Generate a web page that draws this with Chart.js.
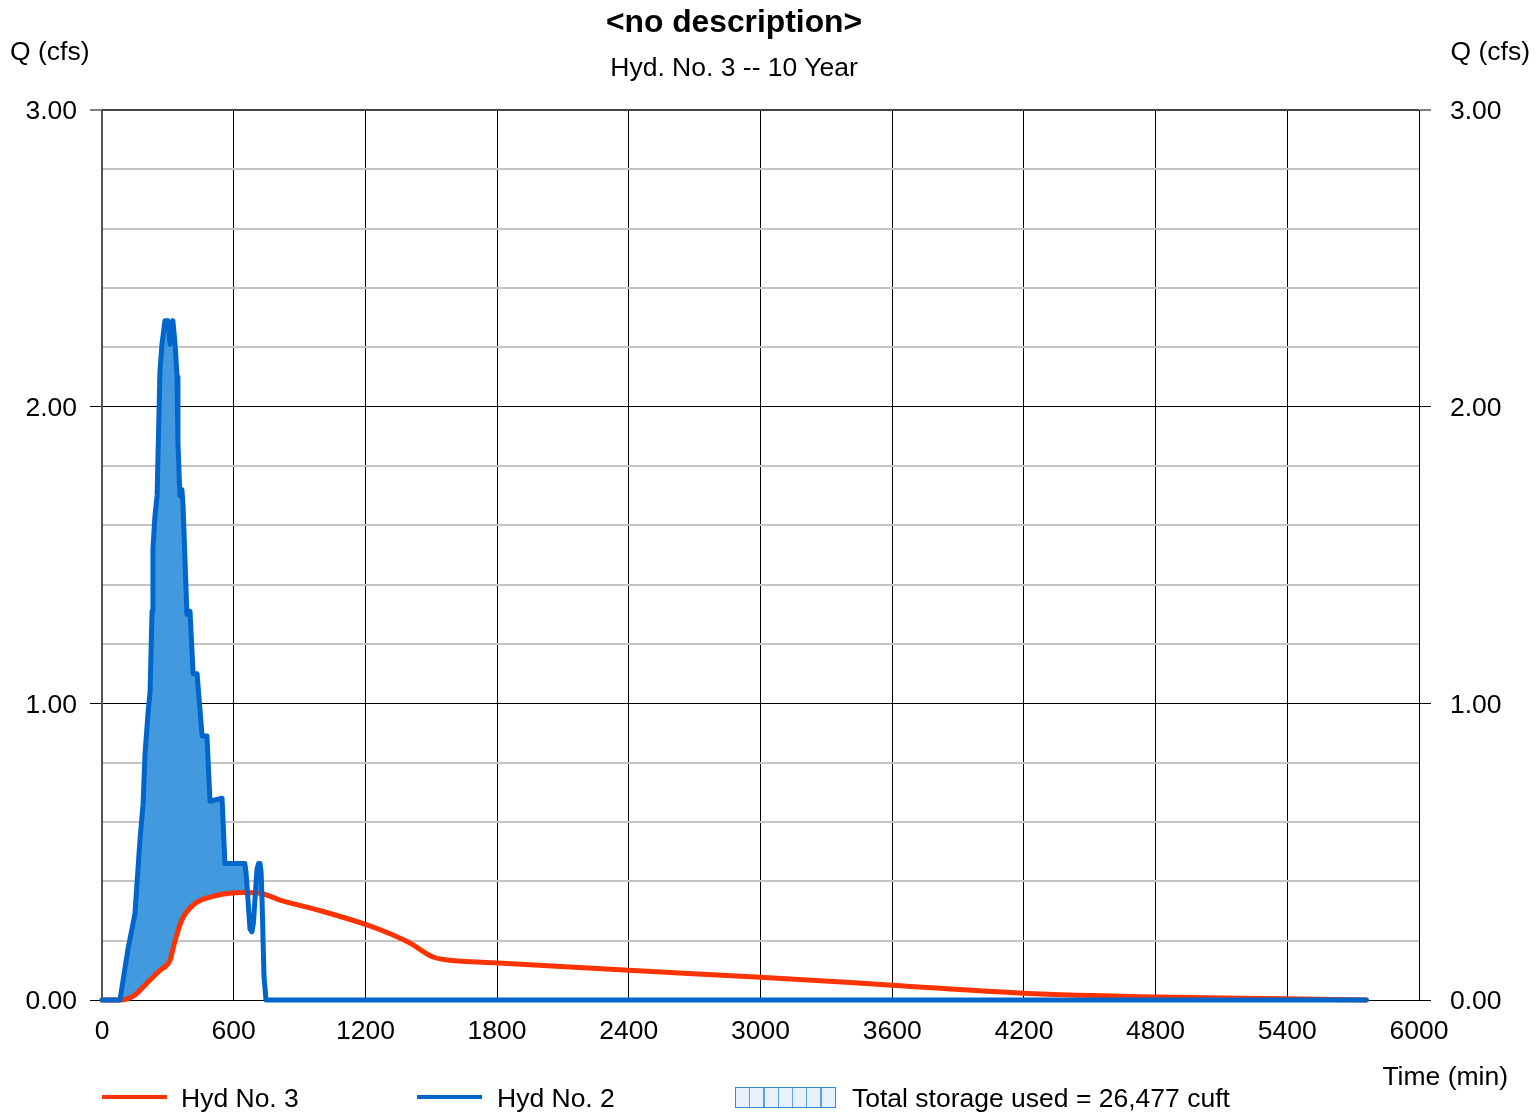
<!DOCTYPE html>
<html>
<head>
<meta charset="utf-8">
<script src="https://cdn.jsdelivr.net/npm/chart.js@4.4.1/dist/chart.umd.min.js"></script>
<style>
  html, body { margin:0; padding:0; background:#fff; }
  body { width:1536px; height:1112px; position:relative; overflow:hidden;
         font-family:"Liberation Sans", Arial, sans-serif; color:#000; }
  #wrap { position:absolute; left:0; top:0; width:1536px; height:1112px; }
  .t { position:absolute; white-space:nowrap; font-size:26.5px; line-height:27px; }
  .line { position:absolute; height:4px; }
</style>
</head>
<body>
<div id="wrap"><canvas id="c" width="1536" height="1112"></canvas></div>
<div class="t" style="left:0;width:1468px;text-align:center;top:5px;font-size:31.8px;line-height:32px;font-weight:bold;">&lt;no description&gt;</div>
<div class="t" style="left:0;width:1468px;text-align:center;top:54px;">Hyd. No. 3 -- 10 Year</div>
<div class="t" style="left:10px;top:38px;">Q (cfs)</div>
<div class="t" style="right:6px;top:38px;">Q (cfs)</div>
<div class="t" style="right:28px;top:1063px;">Time (min)</div>
<div class="line" style="left:102px;width:65px;top:1095px;background:#ff3300;"></div>
<div class="t" style="left:181px;top:1085px;">Hyd No. 3</div>
<div class="line" style="left:417px;width:65px;top:1095px;background:#0066cc;"></div>
<div class="t" style="left:497px;top:1085px;">Hyd No. 2</div>
<div style="position:absolute;left:735px;top:1087px;width:99px;height:19px;border:1px solid #3a86d6;
  background:repeating-linear-gradient(to right,#e6f1fc 0px,#e6f1fc 13px,#5aa0e4 13px,#5aa0e4 14.3px);"></div>
<div class="t" style="left:852px;top:1085px;">Total storage used = 26,477 cuft</div>
<script>
// Hyd No. 3 (outflow, red)
const redTime = [0, 82, 118, 150, 205, 264, 310, 333, 364, 415, 492, 583, 642, 720, 811, 1000, 1207, 1326, 1403, 1508, 1576, 1804, 2400, 3000, 3600, 4196, 4806, 5399, 5760];
const redQ    = [0, 0, 0.005, 0.017, 0.057, 0.10, 0.135, 0.20, 0.27, 0.32, 0.347, 0.36, 0.362, 0.36, 0.337, 0.30, 0.253, 0.219, 0.192, 0.145, 0.135, 0.125, 0.10, 0.077, 0.05, 0.023, 0.01, 0.004, 0];
// Hyd No. 2 (inflow, blue)
const blueTime = [0, 82, 118, 150, 173, 187, 196, 210, 219, 228, 232, 241, 251, 264, 273, 287, 301, 310, 323, 333, 342, 346, 355, 364, 369, 387, 401, 415, 433, 456, 478, 492, 547, 560, 651, 656, 665, 674, 683, 690, 697, 706, 713, 720, 725, 729, 738, 747, 5760];
const blueQ    = [0, 0, 0.17, 0.29, 0.54, 0.66, 0.83, 0.97, 1.04, 1.31, 1.52, 1.63, 1.70, 2.12, 2.21, 2.29, 2.29, 2.21, 2.29, 2.21, 2.10, 1.88, 1.70, 1.72, 1.67, 1.30, 1.31, 1.10, 1.10, 0.89, 0.89, 0.67, 0.68, 0.46, 0.46, 0.43, 0.34, 0.24, 0.23, 0.26, 0.34, 0.44, 0.46, 0.46, 0.43, 0.34, 0.08, 0, 0];
const xTicks = [0, 600, 1200, 1800, 2400, 3000, 3600, 4200, 4800, 5400, 6000];
const yTicks = [0, 1, 2, 3];

const redPts = redTime.map((t, i) => ({x: t, y: redQ[i]}));
const bluePts = blueTime.map((t, i) => ({x: t, y: blueQ[i]}));

const FONT = {family: '"Liberation Sans", Arial, sans-serif', size: 26.5};
const isMajor = v => yTicks.some(m => Math.abs(m - v) < 1e-6);

function yAxis(pos, width, pad) {
  return {
    type: 'linear', position: pos, min: 0, max: 3,
    afterFit: s => { s.width = width; },
    ticks: {
      stepSize: 0.2, font: FONT, color: '#000', padding: pad, autoSkip: false, labelOffset: 2,
      callback: v => isMajor(v) ? Number(v).toFixed(2) : ''
    },
    grid: {
      drawOnChartArea: pos === 'left',
      color: c => isMajor(c.tick.value) ? (c.tick.value === 3 ? '#444' : '#000') : '#c4c4c4',
      lineWidth: c => isMajor(c.tick.value) ? (c.tick.value === 3 ? 2 : 1) : 2,
      tickColor: c => isMajor(c.tick.value) ? '#000' : 'rgba(0,0,0,0)',
      tickLength: 12, tickWidth: 1
    },
    border: pos === 'left' ? {color: '#555', width: 2} : {color: '#000', width: 1}
  };
}

new Chart(document.getElementById('c'), {
  type: 'line',
  data: {
    datasets: [
      {label: 'Hyd No. 3', data: redPts, borderColor: '#ff3300', borderWidth: 5,
       borderJoinStyle: 'round', borderCapStyle: 'round', clip: false,
       pointRadius: 0, cubicInterpolationMode: 'monotone', fill: false, order: 2},
      {label: 'Hyd No. 2', data: bluePts, borderColor: '#0066cc', borderWidth: 5,
       borderJoinStyle: 'round', borderCapStyle: 'round', clip: false,
       pointRadius: 0, tension: 0, order: 1,
       fill: {target: 0, above: '#4399de', below: 'rgba(0,0,0,0)'}}
    ]
  },
  options: {
    responsive: false, animation: false, devicePixelRatio: 1,
    layout: {padding: {top: 110, left: 0, right: 0, bottom: 0}},
    plugins: {legend: {display: false}, title: {display: false}, tooltip: {enabled: false},
              filler: {drawTime: 'beforeDatasetsDraw'}},
    scales: {
      x: {
        type: 'linear', position: 'bottom', min: 0, max: 6000,
        afterFit: s => { s.height = 112; },
        afterBuildTicks: s => { s.ticks = xTicks.map(v => ({value: v})); },
        ticks: {font: FONT, color: '#000', padding: 16, maxRotation: 0, autoSkip: false,
                callback: v => String(v)},
        grid: {color: '#000', lineWidth: 1, drawTicks: false},
        border: {color: '#000', width: 1}
      },
      y: yAxis('left', 102, 13),
      y2: yAxis('right', 117, 19)
    }
  }
});
</script>
</body>
</html>
